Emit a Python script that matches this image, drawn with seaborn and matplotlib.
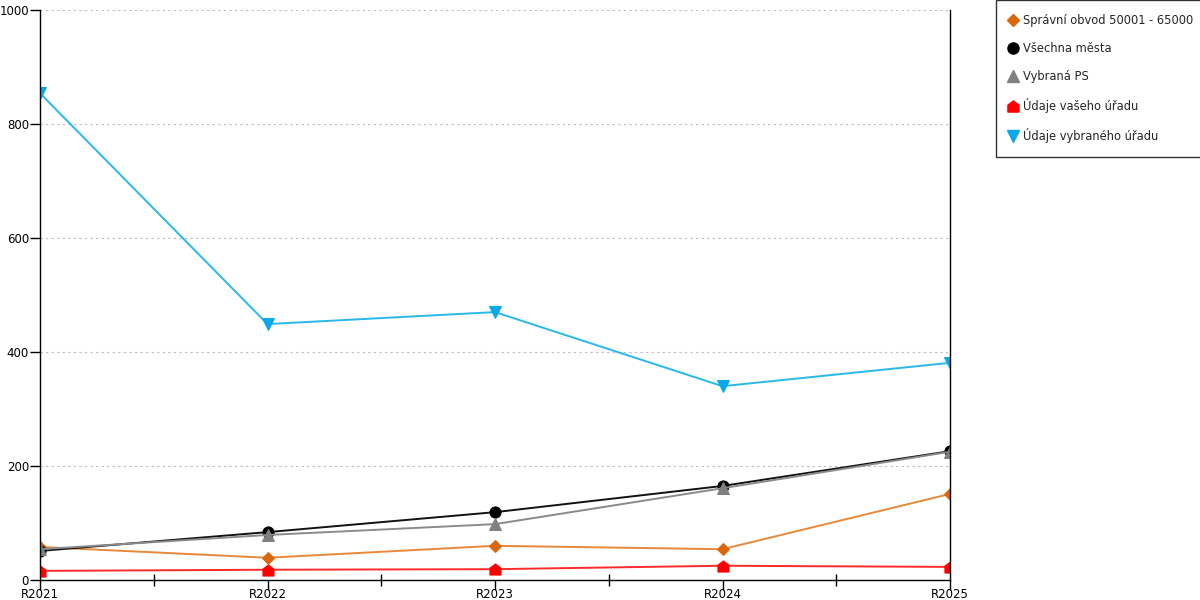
import matplotlib
matplotlib.use('Agg')
import matplotlib.pyplot as plt
import seaborn as sns
import pandas as pd
from matplotlib.ticker import MultipleLocator, FixedLocator
from matplotlib.lines import Line2D
from matplotlib.path import Path

years = ['R2021', 'R2022', 'R2023', 'R2024', 'R2025']
obvod = [58, 39, 60, 54, 151]
vsechna = [51, 84, 119, 165, 226]
vybrana_ps = [54, 79, 98, 161, 225]
vas_urad = [16, 18, 19, 25, 23]
vybrany_urad = [854, 449, 470, 340, 381]

names = ['Správní obvod 50001 - 65000', 'Všechna města', 'Vybraná PS',
         'Údaje vašeho úřadu', 'Údaje vybraného úřadu']

# house-shaped marker for "vaseho uradu"
house = Path([(-1, -1), (1, -1), (1, 0.25), (0, 1), (-1, 0.25), (-1, -1)],
             [Path.MOVETO, Path.LINETO, Path.LINETO, Path.LINETO, Path.LINETO, Path.CLOSEPOLY])

styles = [
    (obvod, '#e8883a', '#d9680c', 'D', 6),
    (vsechna, '#111111', '#000000', 'o', 8),
    (vybrana_ps, '#8a8a8a', '#808080', '^', 8),
    (vas_urad, '#ff2a2a', '#ff0000', house, 8),
    (vybrany_urad, '#28b8ea', '#0aa8e8', 'v', 8),
]

sns.set_theme(style='white')
plt.rcParams['font.family'] = ['DejaVu Sans']

fig = plt.figure(figsize=(12, 6), dpi=100)
ax = fig.add_axes([40 / 1200, 20 / 600, 910 / 1200, 570 / 600])

handles = []
for (vals, lc, mc, mk, ms), name in zip(styles, names):
    df = pd.DataFrame({'rok': years, 'v': vals})
    sns.lineplot(data=df, x='rok', y='v', ax=ax, color=lc, linewidth=1.4,
                 marker=mk, markersize=ms, markerfacecolor=mc,
                 markeredgecolor=mc, sort=False, legend=False)
    handles.append(Line2D([], [], linestyle='none', marker=mk, markersize=ms,
                          markerfacecolor=mc, markeredgecolor=mc, label=name))

ax.set_xlim(0, 4)
ax.set_ylim(0, 1000)
ax.set_xlabel('')
ax.set_ylabel('')
ax.yaxis.set_major_locator(MultipleLocator(200))
ax.xaxis.set_minor_locator(FixedLocator([0.5, 1.5, 2.5, 3.5]))
ax.grid(axis='y', color='#bbbbbb', linestyle=(0, (2, 3)), linewidth=0.8)
ax.grid(axis='x', visible=False)

for s in ['left', 'bottom', 'right']:
    ax.spines[s].set_color('black')
    ax.spines[s].set_linewidth(1)
ax.spines['top'].set_visible(False)

ax.tick_params(axis='both', which='major', direction='out', length=7,
               color='black', width=1, labelsize=8.5, labelcolor='black',
               bottom=True, left=True)
ax.tick_params(axis='x', which='major', pad=-1)
ax.tick_params(axis='y', which='major', pad=1)
ax.tick_params(axis='x', which='minor', direction='inout', length=9,
               color='black', width=1, bottom=True)

leg = fig.legend(handles=handles, loc='upper left',
                 bbox_to_anchor=(996 / 1200, 1.0), fontsize=8.3,
                 frameon=True, fancybox=False, edgecolor='black',
                 handlelength=0.6, handletextpad=0.5, labelspacing=1.3,
                 borderpad=1.2, borderaxespad=0)
leg.get_frame().set_linewidth(1)

fig.savefig('out.png', dpi=100)
